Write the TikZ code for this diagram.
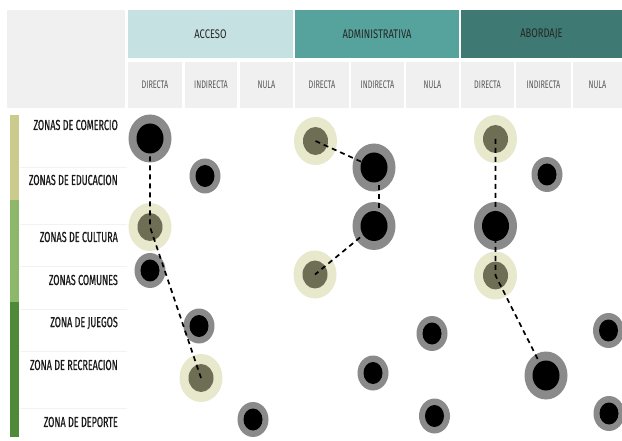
\documentclass[tikz,border=0pt]{standalone}
\usepackage{fontspec}
\setmainfont{Fira Sans}[FakeStretch=0.62]
\newfontfamily\lblfont{Fira Sans}[FakeStretch=0.62, FakeBold=0.6]
\newfontfamily\hdrfont{Fira Sans}[FakeStretch=0.75]
\newfontfamily\subfont{Fira Sans}[FakeStretch=0.66]
\usetikzlibrary{shapes.geometric}
\definecolor{cellgray}{HTML}{F0F0F0}
\definecolor{acc}{HTML}{C5E1E2}
\definecolor{adm}{HTML}{56A39D}
\definecolor{abo}{HTML}{3E7A73}
\definecolor{ring}{HTML}{8A8A8A}
\definecolor{pale}{HTML}{E8E8CC}
\definecolor{olive}{HTML}{6E6E55}
\definecolor{barA}{HTML}{CBCB8E}
\definecolor{barB}{HTML}{8DB86C}
\definecolor{barC}{HTML}{4F8A3B}
\definecolor{sep}{HTML}{F2F2F2}
\tikzset{
  bigdot/.style={ellipse, inner sep=0pt, fill=ring, minimum width=43pt, minimum height=48pt,
    path picture={\fill[black] (path picture bounding box.center) ellipse [x radius=13.5pt, y radius=15pt];}},
  meddot/.style={ellipse, inner sep=0pt, fill=ring, minimum width=31pt, minimum height=35pt,
    path picture={\fill[black] (path picture bounding box.center) ellipse [x radius=9.5pt, y radius=11pt];}},
  litedot/.style={ellipse, inner sep=0pt, fill=pale, minimum width=43pt, minimum height=48pt,
    path picture={\fill[olive] (path picture bounding box.center) ellipse [x radius=12.5pt, y radius=14pt];}},
  band/.style={rectangle, inner sep=0pt, minimum height=48pt, font=\hdrfont\fontsize{12.5}{12.5}\selectfont, text=black!85},
  subcell/.style={rectangle, inner sep=0pt, fill=cellgray, minimum height=46pt, font=\subfont\fontsize{11}{11}\selectfont, text=black!65},
  lbl/.style={anchor=east, inner sep=0pt, font=\lblfont\fontsize{14.5}{14.5}\selectfont, text=black!90},
  link/.style={draw=black, line width=1.7pt, dash pattern=on 5pt off 4pt},
}
\begin{document}
\begin{tikzpicture}[x=1pt,y=-1pt]
\useasboundingbox (0,0) rectangle (622,441);
\fill[white] (0,0) rectangle (622,441);
% top-left box
\fill[cellgray] (7,10) rectangle (125,108);
% header bands
\node[band, fill=acc, minimum width=165pt] (hacc) at (210.5,34) {ACCESO};
\node[band, fill=adm, minimum width=164pt] (hadm) at (377,34) {ADMINISTRATIVA};
\node[band, fill=abo, minimum width=161pt] (habo) at (541.5,34) {ABORDAJE};
% sub header cells
\node[subcell, minimum width=54pt] (s1) at (155,85) {DIRECTA};
\node[subcell, minimum width=52pt] (s2) at (211,85) {INDIRECTA};
\node[subcell, minimum width=53pt] (s3) at (266.5,85) {NULA};
\node[subcell, minimum width=54pt] (s4) at (322,85) {DIRECTA};
\node[subcell, minimum width=53pt] (s5) at (377.5,85) {INDIRECTA};
\node[subcell, minimum width=53pt] (s6) at (432.5,85) {NULA};
\node[subcell, minimum width=53pt] (s7) at (487.5,85) {DIRECTA};
\node[subcell, minimum width=55pt] (s8) at (543.5,85) {INDIRECTA};
\node[subcell, minimum width=49pt] (s9) at (597.5,85) {NULA};
% left colour bar
\fill[barA] (10,115) rectangle (19,200);
\fill[barB] (10,200) rectangle (19,302);
\fill[barC] (10,302) rectangle (19,437);
% faint row separators
\foreach \yy in {167,224,266,309,351,408} \draw[sep, line width=0.6pt] (20,\yy) -- (127,\yy);
% row labels
\node[lbl] (r1) at (118,125) {ZONAS DE COMERCIO};
\node[lbl] (r2) at (118,180) {ZONAS DE EDUCACION};
\node[lbl] (r3) at (118,237) {ZONAS DE CULTURA};
\node[lbl] (r4) at (118,280) {ZONAS COMUNES};
\node[lbl] (r5) at (118,323) {ZONA DE JUEGOS};
\node[lbl] (r6) at (118,365) {ZONA DE RECREACION};
\node[lbl] (r7) at (118,422) {ZONA DE DEPORTE};
% ACCESO dots
\node[bigdot] (A1) at (150,138.5) {};
\node[meddot] (A2) at (205,176) {};
\node[litedot] (A3) at (150,227) {};
\node[meddot] (A4) at (150,270.5) {};
\node[meddot] (A5) at (199,326) {};
\node[litedot] (A6) at (201,378) {};
\node[meddot] (A7) at (253,419.5) {};
% ADMINISTRATIVA dots
\node[litedot] (D1) at (315.5,141) {};
\node[bigdot] (D2) at (374,167.5) {};
\node[bigdot] (D3) at (374,226) {};
\node[litedot] (D4) at (315,274.5) {};
\node[meddot] (D5) at (432,333.5) {};
\node[meddot] (D6) at (373,373) {};
\node[meddot] (D7) at (434.5,416) {};
% ABORDAJE dots
\node[litedot] (B1) at (495.5,139) {};
\node[meddot] (B2) at (547,174.5) {};
\node[bigdot] (B3) at (495.5,226) {};
\node[litedot] (B4) at (495.5,275.5) {};
\node[meddot] (B5) at (608.5,330.5) {};
\node[bigdot] (B6) at (546,375.5) {};
\node[meddot] (B7) at (609,413.5) {};
% connectors
\draw[link] (A1.center) -- (A3.center) -- (A6.center);
\draw[link] (D1.center) -- (D2.center);
\draw[link] ([xshift=5pt]D2.center) -- ([xshift=5pt]D3.center);
\draw[link] (D3.center) -- (D4.center);
\draw[link] (B1.center) -- (B4.center) -- (B6.center);
\end{tikzpicture}
\end{document}
